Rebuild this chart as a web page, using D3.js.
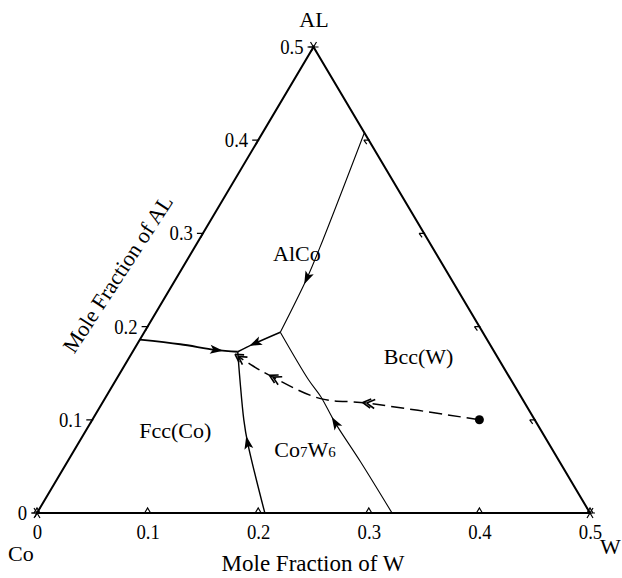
<!DOCTYPE html>
<html>
<head>
<meta charset="utf-8">
<script src="https://cdn.jsdelivr.net/npm/d3@7"></script>
<style>
  body { margin: 0; background: #fff; }
  svg { display: block; }
  text { font-family: "Liberation Serif", "DejaVu Serif", serif; fill: #000; }
</style>
</head>
<body>
<script>
'use strict';

// tick values along each edge of the partial ternary (W on the base, AL on the sides)
const axisTicks = [0, 0.1, 0.2, 0.3, 0.4, 0.5];
const tickLabels = ["0", "0.1", "0.2", "0.3", "0.4", "0.5"];
const rightTicks = [0.1, 0.2, 0.3, 0.4];

// phase boundaries, points as [W, AL] mole fractions, listed in arrow direction
const alcoBcc = [[0.092, 0.408], [0.112, 0.293], [0.118, 0.253], [0.123, 0.194]];
const alcoTie = [[0.123, 0.194], [0.106, 0.182], [0.095, 0.173]];
const alcoFcc = [[0.000, 0.186], [0.039, 0.181], [0.074, 0.175], [0.095, 0.173]];
const fccCo7w6 = [[0.206, 0.000], [0.153, 0.075], [0.137, 0.100], [0.112, 0.143], [0.095, 0.173]];
const co7w6Bcc = [[0.321, 0.000], [0.265, 0.055], [0.221, 0.097], [0.194, 0.125], [0.174, 0.143], [0.123, 0.194]];
// solidification path from the alloy composition
const solidPath = [[0.350, 0.100], [0.239, 0.118], [0.194, 0.123], [0.140, 0.146], [0.116, 0.158], [0.098, 0.168]];
const alloy = [0.350, 0.100];

// where the arrows sit, as fraction of each curve's length
const boundaryArrows = [0.72, 0.58, 0.78, 0.44, 0.5];
const pathArrows = [0.45, 0.84, 1.0];

const regionLabels = [
  {text: "AlCo", w: 0.10, al: 0.27},
  {text: "Bcc(W)", w: 0.265, al: 0.16},
  {text: "Fcc(Co)", w: 0.085, al: 0.08}
];

const width = 622, height = 578;

const svg = d3.select("body").append("svg")
  .attr("width", width)
  .attr("height", height);

// horizontal position comes from W + AL/2, vertical from AL
const xScale = d3.scaleLinear().domain([0, 0.5]).range([37, 590]);
const yScale = d3.scaleLinear().domain([0, 0.5]).range([513, 47]);
const px = (d) => xScale(d[0] + d[1] / 2);
const py = (d) => yScale(d[1]);

const line = d3.line().x(px).y(py).curve(d3.curveCatmullRom.alpha(0.5));

// triangle frame
svg.append("path")
  .datum([[0, 0], [0.5, 0], [0, 0.5], [0, 0]])
  .attr("d", d3.line().x(px).y(py))
  .attr("fill", "none")
  .attr("stroke", "#000")
  .attr("stroke-width", 2)
  .attr("stroke-linejoin", "miter");

// tick marks
let ticks = svg.append("g").attr("stroke", "#000").attr("stroke-width", 1.2).attr("fill", "none");
axisTicks.forEach((t) => {
  let x = px([t, 0]), y = py([t, 0]);
  ticks.append("path").attr("d", `M${x - 3},${y} L${x},${y - 5} L${x + 3},${y}`);
  let lx = px([0, t]), ly = py([0, t]);
  ticks.append("path").attr("d", `M${lx - 6},${ly} L${lx + 1},${ly} M${lx},${ly} L${lx - 2},${ly + 4}`);
});
rightTicks.forEach((t) => {
  let x = px([0.5 - t, t]), y = py([0.5 - t, t]);
  ticks.append("path").attr("d", `M${x + 1},${y} L${x - 5},${y} M${x - 5},${y} L${x - 2},${y + 4}`);
});
// corner marks
[[0, 0], [0.5, 0], [0, 0.5]].forEach((c) => {
  let x = px(c), y = py(c);
  ticks.append("path").attr("d", `M${x - 5},${y} L${x + 5},${y} M${x - 3},${y - 5} L${x + 3},${y + 5} M${x + 3},${y - 5} L${x - 3},${y + 5}`);
});

// bottom axis labels
let xAxis = d3.axisBottom(xScale)
  .tickValues(axisTicks)
  .tickSize(0)
  .tickPadding(10)
  .tickFormat((d, i) => tickLabels[i]);
let gx = svg.append("g")
  .attr("transform", "translate(0," + yScale(0) + ")")
  .call(xAxis);
gx.select(".domain").remove();
gx.selectAll("text")
  .attr("font-family", "Liberation Serif, serif")
  .attr("font-size", 22)
  .attr("fill", "#000")
  .attr("transform", "scale(0.85,1)");

// left edge labels (AL)
axisTicks.forEach((t, i) => {
  svg.append("text")
    .attr("transform", `translate(${px([0, t]) - 10},${py([0, t]) + 7}) scale(0.85,1)`)
    .attr("text-anchor", "end")
    .style("font-size", "22px")
    .text(tickLabels[i]);
});

// phase boundaries
let boundaries = [
  {pts: alcoBcc, sw: 1.1},
  {pts: alcoTie, sw: 1.5},
  {pts: alcoFcc, sw: 1.9},
  {pts: fccCo7w6, sw: 1.4},
  {pts: co7w6Bcc, sw: 1.1}
];

function pointAndAngle(node, t) {
  let len = node.getTotalLength();
  let at = Math.max(1, Math.min(len - 1, len * t));
  let a = node.getPointAtLength(at - 1);
  let b = node.getPointAtLength(at + 1);
  let p = node.getPointAtLength(len * t);
  return {x: p.x, y: p.y, angle: Math.atan2(b.y - a.y, b.x - a.x) * 180 / Math.PI};
}

boundaries.forEach((b, i) => {
  let path = svg.append("path")
    .datum(b.pts)
    .attr("d", line)
    .attr("fill", "none")
    .attr("stroke", "#000")
    .attr("stroke-width", b.sw);
  let pa = pointAndAngle(path.node(), boundaryArrows[i]);
  svg.append("path")
    .attr("d", "M7,0 L-6,-4.5 L-3,0 L-6,4.5 Z")
    .attr("fill", "#000")
    .attr("transform", `translate(${pa.x},${pa.y}) rotate(${pa.angle})`);
});

// solidification path (dashed) with double arrows
let sp = svg.append("path")
  .datum(solidPath)
  .attr("d", line)
  .attr("fill", "none")
  .attr("stroke", "#000")
  .attr("stroke-width", 1.5)
  .attr("stroke-dasharray", "13,6");

pathArrows.forEach((t) => {
  let pa = pointAndAngle(sp.node(), t);
  svg.append("path")
    .attr("d", "M0,0 L-8,-4.5 M0,0 L-8,4.5 M4,0 L-4,-4.5 M4,0 L-4,4.5")
    .attr("fill", "none")
    .attr("stroke", "#000")
    .attr("stroke-width", 1.6)
    .attr("transform", `translate(${pa.x},${pa.y}) rotate(${pa.angle})`);
});

svg.append("circle")
  .attr("cx", px(alloy))
  .attr("cy", py(alloy))
  .attr("r", 4.5)
  .attr("fill", "#000");

// region labels
regionLabels.forEach((r) => {
  svg.append("text")
    .attr("x", px([r.w, r.al]))
    .attr("y", py([r.w, r.al]))
    .attr("text-anchor", "middle")
    .style("font-size", "22px")
    .text(r.text);
});

let co7 = svg.append("text")
  .attr("x", 305)
  .attr("y", 457)
  .attr("text-anchor", "middle")
  .style("font-size", "22px");
co7.append("tspan").text("Co");
co7.append("tspan").style("font-size", "15px").text("7");
co7.append("tspan").text("W");
co7.append("tspan").style("font-size", "15px").text("6");

// corner and axis titles
svg.append("text").attr("x", 314).attr("y", 27).attr("text-anchor", "middle")
  .style("font-size", "22px").text("AL");
svg.append("text").attr("x", 8).attr("y", 561)
  .style("font-size", "22px").text("Co");
svg.append("text").attr("x", 600).attr("y", 554)
  .style("font-size", "22px").text("W");

svg.append("text")
  .attr("x", 313)
  .attr("y", 571)
  .attr("text-anchor", "middle")
  .style("font-size", "23px")
  .text("Mole Fraction of W");

svg.append("text")
  .attr("transform", "translate(124,278) rotate(-57)")
  .attr("text-anchor", "middle")
  .style("font-size", "22px")
  .text("Mole Fraction of AL");
</script>
</body>
</html>
